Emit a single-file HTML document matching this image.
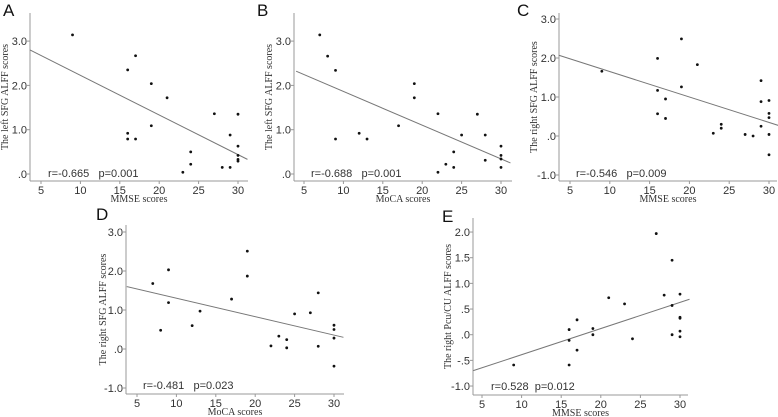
<!DOCTYPE html>
<html><head><meta charset="utf-8"><style>
html,body{margin:0;padding:0;background:#fff;}
svg{display:block;}
.tk{font-family:"Liberation Sans",sans-serif;font-size:11px;fill:#333;white-space:pre;}
.ti{font-family:"Liberation Serif",serif;font-size:10px;fill:#333;}
.pl{font-family:"Liberation Sans",sans-serif;font-size:17px;fill:#111;}
</style></head><body>
<svg id="fig" width="778" height="417" viewBox="0 0 778 417"></svg>
<script>
// Panel A: MMSE vs left SFG
const aX=[9,16,17,19,21,16,16,17,19,27,30,29,30,30,30,30,24,24,23,28,29];
const aY=[3.14,2.35,2.67,2.04,1.72,0.92,0.79,0.79,1.09,1.36,1.35,0.88,0.63,0.42,0.33,0.29,0.5,0.22,0.04,0.15,0.15];
// Panel B: MoCA vs left SFG
const bX=[7,8,9,9,12,13,17,19,19,22,27,25,28,30,30,30,30,28,24,24,23,22];
const bY=[3.14,2.66,2.34,0.79,0.92,0.79,1.09,2.04,1.72,1.36,1.35,0.88,0.88,0.63,0.42,0.34,0.15,0.31,0.5,0.15,0.22,0.04];
// Panel C: MMSE vs right SFG
const cX=[9,16,16,16,17,17,19,19,21,23,24,24,27,28,29,29,29,30,30,30,30,30];
const cY=[1.66,1.99,1.17,0.57,0.95,0.45,2.49,1.26,1.83,0.07,0.30,0.20,0.04,0.0,1.42,0.88,0.25,0.91,0.58,0.47,0.04,-0.48];
// Panel D: MoCA vs right SFG
const dX=[7,8,9,9,12,13,17,19,19,22,23,24,24,25,27,28,28,30,30,30,30];
const dY=[1.68,0.48,2.03,1.19,0.6,0.97,1.28,2.51,1.87,0.08,0.33,0.24,0.03,0.9,0.93,1.44,0.07,0.61,0.5,0.28,-0.44];
// Panel E: MMSE vs right PCu/CU
const eX=[9,16,16,16,17,17,19,19,21,23,24,27,28,29,29,29,30,30,30,30,30];
const eY=[-0.59,0.1,-0.11,-0.59,0.29,-0.3,0.12,0.0,0.72,0.6,-0.08,1.97,0.77,1.45,0.57,0.0,0.79,0.34,0.32,0.07,-0.04];
// Regression lines (x start, x end, y start, y end)
const aFit=[3.6,31.2,2.8,0.33];
const bFit=[4,31.2,2.32,0.25];
const cFit=[3.6,31.2,2.07,0.27];
const dFit=[3.7,31.2,1.6,0.3];
const eFit=[3.9,31.2,-0.7,0.69];
const xTicks=[5,10,15,20,25,30];
const yTicksAB=[0,1,2,3];
const yLabAB=[".0","1.0","2.0","3.0"];
const yTicksCD=[-1,0,1,2,3];
const yLabCD=["-1.0",".0","1.0","2.0","3.0"];
const yTicksE=[-1,-0.5,0,0.5,1,1.5,2];
const yLabE=["-1.0","-.5",".0",".5","1.0","1.5","2.0"];

const NS="http://www.w3.org/2000/svg";
const svg=document.getElementById('fig');
function mk(tag,attrs,parent){const e=document.createElementNS(NS,tag);for(const k in attrs)e.setAttribute(k,attrs[k]);(parent||svg).appendChild(e);return e;}

function panel(p){
  const g=mk('g',{});
  
  
  const sx=v=>p.x5+(v-5)*(p.x30-p.x5)/25;
  const sy=v=>p.y0-v*p.yu;
  const lab=mk('text',{x:p.lx,y:p.ly,class:'pl'},g);lab.textContent=p.id;
  
  
  const ya=mk('line',{x1:p.left,y1:p.top,x2:p.left,y2:p.bottom,stroke:'#999','stroke-width':1},g);
  
  
  const xa=mk('line',{x1:p.left,y1:p.bottom,x2:p.right,y2:p.bottom,stroke:'#999','stroke-width':1},g);
  
  
  xTicks.forEach(v=>{
    const x=sx(v);
    mk('line',{x1:x,y1:p.bottom,x2:x,y2:p.bottom+3,stroke:'#999'},g);
    const t=mk('text',{x:x,y:p.bottom+13,class:'tk','text-anchor':'middle'},g);t.textContent=v;
    
    
  });
  p.yt.forEach((v,i)=>{
    const y=sy(v);
    mk('line',{x1:p.left-3,y1:y,x2:p.left,y2:y,stroke:'#999'},g);
    const t=mk('text',{x:p.left-3,y:y+4,class:'tk','text-anchor':'end'},g);t.textContent=p.yl[i];
    
    
  });
  const f=p.fit;
  const fl=mk('line',{x1:sx(f[0]),y1:sy(f[2]),x2:sx(f[1]),y2:sy(f[3]),stroke:'#777','stroke-width':1},g);
  
  
  p.xs.forEach((v,i)=>{
    const c=mk('circle',{cx:sx(v),cy:sy(p.ys[i]),r:1.4,fill:'#111'},g);
    
    
  });
  const an=mk('text',{x:p.ax,y:p.ay,class:'tk'},g);an.textContent=p.ann;
  
  
  const xt=mk('text',{x:(p.left+p.right)/2,y:p.bottom+21,class:'ti','text-anchor':'middle'},g);xt.textContent=p.xt;
  
  
  const cy=(p.top+p.bottom)/2;
  const yt=mk('text',{x:p.ytx,y:cy,class:'ti','text-anchor':'middle',transform:'rotate(-90 '+p.ytx+' '+cy+')'},g);yt.textContent=p.ytt;
  
  
}

panel({id:'A',lx:3,ly:16,left:30,right:248,top:13,bottom:181,x5:41,x30:238,y0:174,yu:44.3,yt:yTicksAB,yl:yLabAB,xs:aX,ys:aY,fit:aFit,ax:48,ay:177,ann:'r=-0.665   p=0.001',xt:'MMSE scores',ytx:8,ytt:'The left SFG ALFF scores'});
panel({id:'B',lx:257,ly:16,left:294,right:512,top:13,bottom:181,x5:304,x30:501,y0:174,yu:44.3,yt:yTicksAB,yl:yLabAB,xs:bX,ys:bY,fit:bFit,ax:311,ay:177,ann:'r=-0.688   p=0.001',xt:'MoCA scores',ytx:272,ytt:'The left SFG ALFF scores'});
panel({id:'C',lx:517,ly:16,left:559,right:777,top:13,bottom:181,x5:570,x30:769,y0:136,yu:39,yt:yTicksCD,yl:yLabCD,xs:cX,ys:cY,fit:cFit,ax:576,ay:177,ann:'r=-0.546   p=0.009',xt:'MMSE scores',ytx:537,ytt:'The right SFG ALFF scores'});
panel({id:'D',lx:96,ly:220,left:126,right:344,top:225,bottom:394,x5:137,x30:334,y0:349,yu:39,yt:yTicksCD,yl:yLabCD,xs:dX,ys:dY,fit:dFit,ax:143,ay:389,ann:'r=-0.481   p=0.023',xt:'MoCA scores',ytx:106,ytt:'The right SFG ALFF scores'});
panel({id:'E',lx:442,ly:222,left:473,right:688,top:218,bottom:395,x5:482,x30:680,y0:334.7,yu:51.33,yt:yTicksE,yl:yLabE,xs:eX,ys:eY,fit:eFit,ax:491,ay:390,ann:'r=0.528  p=0.012',xt:'MMSE scores',ytx:451,ytt:'The right Pcu/CU ALFF scores'});
</script>
</body></html>
